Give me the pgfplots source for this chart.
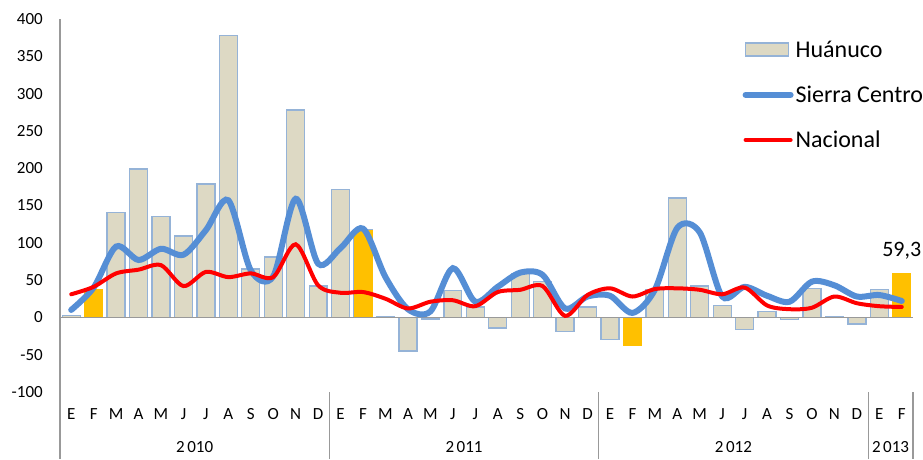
\documentclass[border=0pt]{standalone}
\usepackage{pgfplots}
\pgfplotsset{compat=1.18}
\usepackage{fontspec}
\setmainfont{Carlito}
\usetikzlibrary{calc}
\definecolor{barfill}{HTML}{DDD9C4}
\definecolor{barline}{HTML}{95B3D7}
\definecolor{gold}{HTML}{FFC000}
\definecolor{sierra}{HTML}{558ED5}
\pgfplotsset{
  barleg/.style={legend image code/.code={\draw[##1] (0pt,-6pt) rectangle (43pt,7pt);}},
  lineleg/.style={legend image code/.code={\draw[##1] (0pt,0pt) -- (45pt,0pt);}},
}
\pgfplotstableread{
x h
0 3
1 37
2 141
3 199
4 135
5 109
6 179
7 378
8 65
9 81
10 278
11 42
12 171
13 117
14 1
15 -45
16 -2
17 36
18 14
19 -14
20 59
21 48
22 -19
23 14
24 -30
25 -38
26 37
27 160
28 42
29 16
30 -16
31 8
32 -3
33 39
34 1
35 -9
36 37
37 59.3
}\huanuco
\pgfplotstableread{
x h
1 37
13 117
25 -38
37 59.3
}\feb
\pgfplotstableread{
x s n
0 10 31
1 40 41
2 95 59
3 77 64
4 92 70
5 84 42
6 117 61
7 157 54
8 63 59
9 55 54
10 159 98
11 72 43
12 93 33
13 119 34
14 54 25
15 11 12
16 8 21
17 66 23
18 21 15
19 41 34
20 60 37
21 57 42
22 12 2
23 28 30
24 29 39
25 6 28
26 37 38
27 120 39
28 114 37
29 28 31
30 41 40
31 29 16
32 21 11
33 48 13
34 43 28
35 28 19
36 30 15
37 22 14
}\lines
\begin{document}
\begin{tikzpicture}
\begin{axis}[
  scale only axis, width=853pt, height=373pt,
  xmin=-0.5, xmax=37.5, ymin=-100, ymax=400,
  axis lines*=left,
  x axis line style={draw=none},
  y axis line style={draw=gray!80, line width=1.2pt},
  major tick length=0pt,
  ytick={-100,-50,...,400},
  yticklabel style={font=\fontsize{17}{20}\selectfont, anchor=east, inner sep=0pt, xshift=-17pt},
  /pgf/number format/assume math mode=true,
  xtick={0,...,37},
  xticklabels={E,F,M,A,M,J,J,A,S,O,N,D,E,F,M,A,M,J,J,A,S,O,N,D,E,F,M,A,M,J,J,A,S,O,N,D,E,F},
  xticklabel style={font=\fontsize{17}{20}\selectfont, anchor=base, inner sep=0pt, yshift=-27pt},
  extra x ticks={5.5,17.5,29.5,36.5},
  extra x tick labels={2\hspace{2.5pt}010,2\hspace{2.5pt}011,2\hspace{2.5pt}012,2\hspace{2.5pt}013},
  extra x tick style={xticklabel style={yshift=-33pt}},
  clip=false,
  bar width=0.8,
  legend style={draw=none, fill=none, at={(rel axis cs:0.80,0.947)}, anchor=north west,
    font=\fontsize{24}{28}\selectfont, row sep=23pt, inner sep=0pt,
    /tikz/every even column/.append style={column sep=4pt}},
  legend cell align=left,
]
\coordinate (O) at (rel axis cs:0,0);
\addplot[ybar, bar shift=0pt, fill=barfill, draw=barline, line width=1.3pt, barleg]
  table[x=x,y=h]{\huanuco};
\addlegendentry{Huánuco}
\addplot[ybar, bar shift=0pt, fill=gold, draw=gold, line width=1pt, forget plot]
  table[x=x,y=h]{\feb};
\draw[gray!80, line width=1.2pt] (axis cs:-0.5,0) -- (axis cs:37.5,0);
\addplot[sierra, line width=6pt, smooth, line cap=round, mark=none, lineleg]
  table[x=x,y=s]{\lines};
\addlegendentry{Sierra Centro}
\addplot[red, line width=4pt, smooth, line cap=round, mark=none, lineleg]
  table[x=x,y=n]{\lines};
\addlegendentry{Nacional}
\node[anchor=south, font=\fontsize{22}{26}\selectfont, inner sep=0pt] at (axis cs:37,59.3) [yshift=14pt] {59,3};
\draw[gray!80, line width=1.2pt] (axis cs:11.5,-100) -- ++(0pt,-67pt);
\draw[gray!80, line width=1.2pt] (axis cs:23.5,-100) -- ++(0pt,-67pt);
\draw[gray!80, line width=1.2pt] (axis cs:35.5,-100) -- ++(0pt,-67pt);
\draw[gray!80, line width=1.2pt] (axis cs:37.5,-100) -- ++(0pt,-67pt);
\draw[gray!80, line width=1.2pt] (rel axis cs:0,0) -- ++(0pt,-67pt);
\end{axis}
\pgfresetboundingbox
\path[use as bounding box] ($(O)+(-60pt,-67pt)$) rectangle ++(923pt,459pt);
\end{tikzpicture}
\end{document}
